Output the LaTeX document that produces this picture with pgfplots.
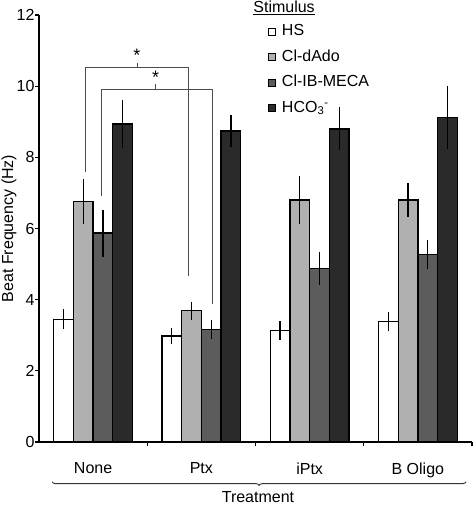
\documentclass[border=0pt]{standalone}
\usepackage{fontspec}
\setmainfont{Liberation Sans}
\usepackage{pgfplots}
\pgfplotsset{compat=1.18}
\usetikzlibrary{decorations.pathreplacing}
\definecolor{cA}{HTML}{FFFFFF}
\definecolor{cB}{HTML}{B0B0B0}
\definecolor{cC}{HTML}{5C5C5C}
\definecolor{cD}{HTML}{2A2A2A}
\newcommand{\fs}{\fontsize{16bp}{19bp}\selectfont}
\begin{document}
\begin{tikzpicture}
\begin{axis}[
 scale only axis, width=433bp, height=427bp,
 xmin=-0.5, xmax=3.5, ymin=0, ymax=12,
 clip=false,
 axis x line*=bottom, axis y line*=left,
 axis line style={line width=1.3bp, -},
 ybar, bar width=19.7bp,
 xtick={0.5,1.5,2.5,3.5}, xticklabels={},
 extra x ticks={0,1,2,3},
 extra x tick labels={None,Ptx,iPtx,B Oligo},
 extra x tick style={tick style={draw=none}},
 ytick={0,2,...,12},
 tick align=outside, major tick length=4bp,
 tick style={line width=1.3bp, black},
 ticklabel style={font=\fs},
 /pgf/number format/assume math mode=true,
 ylabel={Beat Frequency (Hz)},
 ylabel style={at={(axis description cs:-0.0693,0.5)}, anchor=center, rotate=0},
 label style={font=\fs},
 xticklabel style={yshift=-13bp},
 yticklabel style={xshift=3bp},
 legend cell align=left,
 legend style={draw=none, fill=none, font=\fs,
   at={(rel axis cs:0.521,0.988)}, anchor=north west,
   nodes={text height=11.5bp, text depth=3.5bp, inner sep=2bp},
   row sep=6.5bp, column sep=4bp},
 legend image code/.code={\draw[#1, line width=1.2bp] (0bp,-3.5bp) rectangle (7bp,3.5bp);},
 every axis plot/.append style={draw=black, line width=1.3bp},
 error bars/y dir=both, error bars/y explicit,
 error bars/error bar style={line width=1.3bp, black},
 error bars/error mark options={line width=1.3bp, black, mark size=3.6bp},
]
\addplot[fill=cA, bar shift=-29.55bp] coordinates {
 (0,3.45) +- (0,0.18)
 (1,2.98) +- (0,0.13)
 (2,3.13) +- (0,0.16)
 (3,3.38) +- (0,0.17)};
\addlegendentry{HS}
\addplot[fill=cB, bar shift=-9.85bp] coordinates {
 (0,6.75) +- (0,0.53)
 (1,3.69) +- (0,0.15)
 (2,6.80) +- (0,0.57)
 (3,6.80) +- (0,0.37)};
\addlegendentry{Cl-dAdo}
\addplot[fill=cC, bar shift=9.85bp] coordinates {
 (0,5.87) +- (0,0.56)
 (1,3.16) +- (0,0.17)
 (2,4.88) +- (0,0.37)
 (3,5.26) +- (0,0.31)};
\addlegendentry{Cl-IB-MECA}
\addplot[fill=cD, bar shift=29.55bp] coordinates {
 (0,8.94) +- (0,0.58)
 (1,8.74) +- (0,0.34)
 (2,8.80) +- (0,0.50)
 (3,9.12) +- (0,0.79)};
\addlegendentry{HCO\textsubscript{3}\textsuperscript{-}}
% significance brackets
\draw[black!70, line width=0.9bp] (axis cs:-0.075,7.6) -- (axis cs:-0.075,10.52) -- (axis cs:0.876,10.52) -- (axis cs:0.876,4.67);
\draw[black!70, line width=0.9bp] (axis cs:0.405,10.52) -- (axis cs:0.405,10.66);
\node[font=\fontsize{18bp}{20bp}\selectfont] at (axis cs:0.405,10.86) {*};
\draw[black!70, line width=0.9bp] (axis cs:0.079,6.92) -- (axis cs:0.079,9.92) -- (axis cs:1.098,9.92) -- (axis cs:1.098,3.88);
\draw[black!70, line width=0.9bp] (axis cs:0.578,9.92) -- (axis cs:0.578,10.06);
\node[font=\fontsize{18bp}{20bp}\selectfont] at (axis cs:0.578,10.26) {*};
% legend title
\node[font=\fs, anchor=base] at (rel axis cs:0.566,1.005) {\underline{Stimulus}};
% treatment brace
\draw[black!80, line width=0.9bp, decorate, decoration={brace, mirror, amplitude=3.5bp}] (axis cs:-0.38,-1.12) -- (axis cs:3.445,-1.12);
\node[font=\fs] at (axis cs:1.523,-1.55) {Treatment};
\end{axis}
\pgfresetboundingbox
\path (current axis.south west) ++(-39bp,-65bp) rectangle ++(475bp,507bp);
\end{tikzpicture}
\end{document}
